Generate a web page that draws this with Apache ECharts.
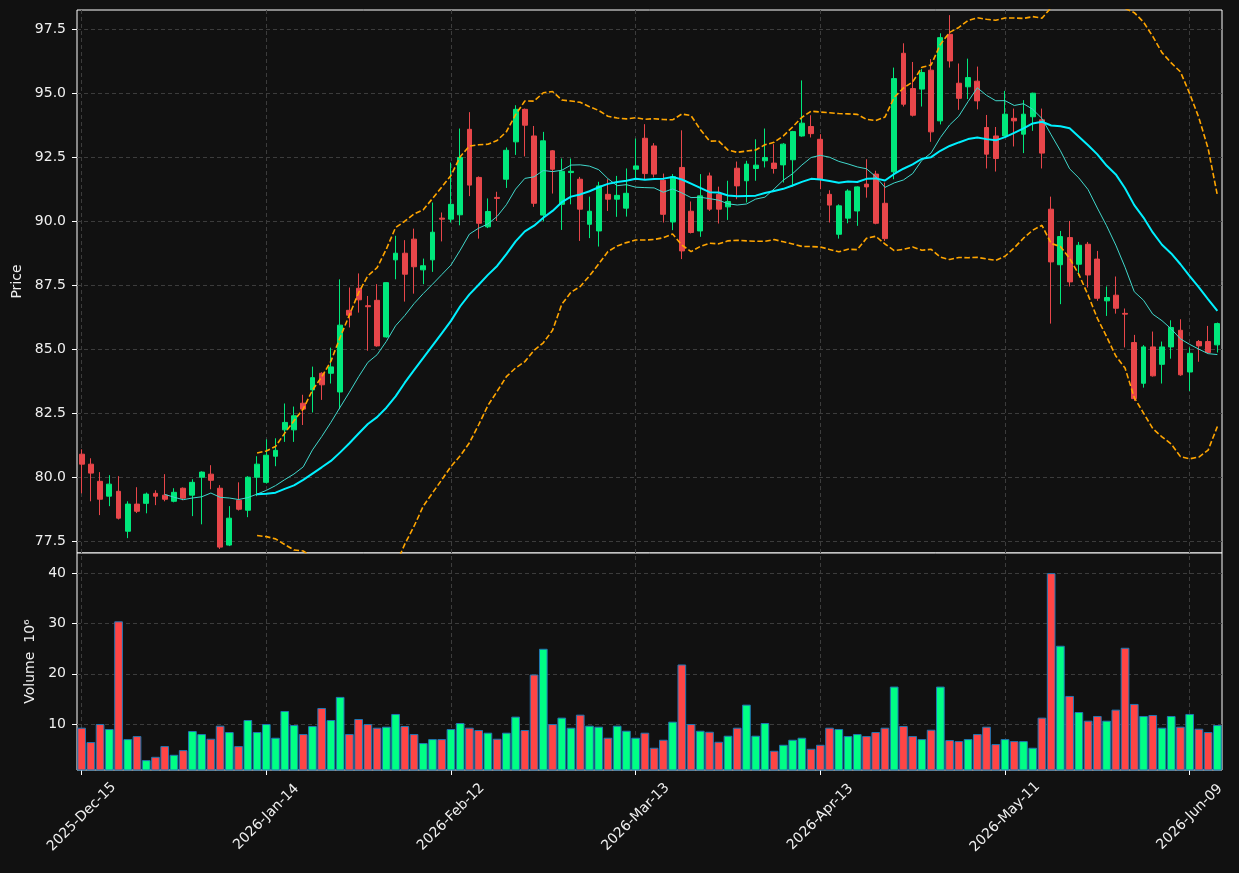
<!DOCTYPE html>
<html>
<head>
<meta charset="utf-8">
<title>Price / Volume</title>
<script src="https://cdn.jsdelivr.net/npm/echarts@6/dist/echarts.min.js"></script>
<style>
html, body { margin: 0; padding: 0; background: #111111; }
#main { width: 1239px; height: 873px; }
</style>
</head>
<body>
<div id="main"></div>
<script>
var dates = [
	'2025-Dec-15','2025-Dec-16','2025-Dec-17','2025-Dec-18','2025-Dec-19','2025-Dec-22','2025-Dec-23','2025-Dec-24','2025-Dec-26','2025-Dec-29','2025-Dec-30','2025-Dec-31',
	'2026-Jan-02','2026-Jan-05','2026-Jan-06','2026-Jan-07','2026-Jan-08','2026-Jan-09','2026-Jan-12','2026-Jan-13','2026-Jan-14','2026-Jan-15','2026-Jan-16','2026-Jan-20','2026-Jan-21','2026-Jan-22','2026-Jan-23','2026-Jan-26','2026-Jan-27','2026-Jan-28','2026-Jan-29','2026-Jan-30',
	'2026-Feb-02','2026-Feb-03','2026-Feb-04','2026-Feb-05','2026-Feb-06','2026-Feb-09','2026-Feb-10','2026-Feb-11','2026-Feb-12','2026-Feb-13','2026-Feb-17','2026-Feb-18','2026-Feb-19','2026-Feb-20','2026-Feb-23','2026-Feb-24','2026-Feb-25','2026-Feb-26','2026-Feb-27',
	'2026-Mar-02','2026-Mar-03','2026-Mar-04','2026-Mar-05','2026-Mar-06','2026-Mar-09','2026-Mar-10','2026-Mar-11','2026-Mar-12','2026-Mar-13','2026-Mar-16','2026-Mar-17','2026-Mar-18','2026-Mar-19','2026-Mar-20','2026-Mar-23','2026-Mar-24','2026-Mar-25','2026-Mar-26','2026-Mar-27','2026-Mar-30','2026-Mar-31',
	'2026-Apr-01','2026-Apr-02','2026-Apr-06','2026-Apr-07','2026-Apr-08','2026-Apr-09','2026-Apr-10','2026-Apr-13','2026-Apr-14','2026-Apr-15','2026-Apr-16','2026-Apr-17','2026-Apr-20','2026-Apr-21','2026-Apr-22','2026-Apr-23','2026-Apr-24','2026-Apr-27','2026-Apr-28','2026-Apr-29','2026-Apr-30',
	'2026-May-01','2026-May-04','2026-May-05','2026-May-06','2026-May-07','2026-May-08','2026-May-11','2026-May-12','2026-May-13','2026-May-14','2026-May-15','2026-May-18','2026-May-19','2026-May-20','2026-May-21','2026-May-22','2026-May-26','2026-May-27','2026-May-28','2026-May-29',
	'2026-Jun-01','2026-Jun-02','2026-Jun-03','2026-Jun-04','2026-Jun-05','2026-Jun-08','2026-Jun-09','2026-Jun-10','2026-Jun-11','2026-Jun-12'
];

var opens = [
	80.90,80.51,79.84,79.26,79.45,77.89,78.95,78.98,79.37,79.30,79.06,79.57,79.30,80.00,80.12,79.57,77.35,79.10,78.71,80.00,
	79.80,80.82,81.85,81.85,82.89,83.41,84.06,84.06,83.33,86.52,87.38,86.70,86.91,85.48,88.49,88.75,89.30,88.10,88.49,90.12,
	90.08,90.25,93.59,91.71,89.78,90.93,91.64,93.10,94.37,93.33,90.24,92.75,90.66,91.90,91.64,89.88,89.62,91.05,90.86,90.51,
	92.03,93.24,92.94,91.60,89.97,92.10,90.39,89.62,91.77,91.05,90.56,92.07,91.58,92.06,92.36,92.27,92.20,92.40,93.33,93.70,
	93.20,91.05,89.49,90.12,90.40,91.45,91.84,90.70,91.93,96.56,95.18,95.16,95.90,93.92,97.30,95.39,95.25,95.47,93.66,93.33,
	93.33,94.02,93.40,94.08,93.96,90.47,88.30,89.36,88.32,89.10,88.52,86.89,87.11,86.40,85.26,83.67,85.09,84.41,85.09,85.74,
	84.11,85.30,85.30,85.17
];
var closes = [
	80.51,80.16,79.14,79.73,78.40,78.95,78.67,79.34,79.26,79.14,79.41,79.18,79.80,80.20,79.88,77.27,78.40,78.75,80.00,80.51,
	80.86,81.05,82.14,82.40,82.66,83.89,83.61,84.31,85.94,86.33,86.93,86.66,85.13,87.60,88.75,87.93,88.22,88.26,89.57,90.08,
	90.66,92.49,91.41,89.92,90.38,90.89,92.77,94.37,93.75,90.70,93.14,92.03,91.95,91.95,90.47,90.39,91.38,90.86,91.01,91.09,
	92.16,91.86,91.84,90.27,91.74,88.84,89.56,90.99,90.47,90.47,90.77,91.38,92.23,92.19,92.49,92.06,93.01,93.50,93.83,93.42,
	91.64,90.63,90.60,91.18,91.34,91.34,89.92,89.32,95.57,94.57,94.14,95.81,93.49,97.17,96.26,94.80,95.61,94.70,92.62,92.45,
	94.18,93.92,94.18,95.00,92.66,88.41,89.40,87.63,89.06,87.90,86.99,87.02,86.60,86.37,83.07,85.09,83.96,85.09,85.85,84.00,
	84.84,85.13,84.87,86.00
];
var lows = [
	79.37,79.06,78.52,78.87,78.35,77.62,78.60,78.59,78.91,79.06,79.02,79.10,78.48,78.16,79.53,77.20,77.31,78.70,78.44,79.26,
	79.75,80.43,81.38,81.38,82.04,82.53,83.02,83.66,82.66,85.85,86.43,84.94,85.10,85.45,87.73,86.86,87.17,87.54,88.02,89.21,
	89.95,89.84,90.98,89.32,89.73,90.01,91.30,92.59,92.53,90.56,89.99,91.08,89.66,90.66,89.23,89.34,89.01,90.40,90.17,90.18,
	91.64,91.61,91.71,89.95,89.65,88.52,89.52,89.39,90.40,89.91,90.05,90.86,90.73,91.58,92.10,91.86,91.51,91.35,93.30,93.27,
	91.25,89.95,89.32,89.92,89.82,90.92,89.88,89.23,91.64,94.48,94.09,94.48,93.10,93.78,96.00,94.35,94.77,94.37,92.06,91.94,
	93.30,92.92,92.66,93.53,92.06,86.00,86.76,87.45,87.87,87.41,86.89,86.30,86.39,85.07,82.98,83.50,83.93,83.66,84.63,83.96,
	83.37,84.51,84.84,84.87
];
var highs = [
	81.09,80.74,80.20,80.08,80.04,79.06,79.61,79.40,79.49,80.12,79.57,79.60,79.92,80.23,80.47,79.69,78.87,79.80,80.04,80.82,
	81.48,81.52,82.88,82.76,83.22,84.32,84.10,85.06,87.73,87.41,87.96,87.08,87.54,87.62,89.43,89.26,89.71,88.54,90.73,90.34,
	92.29,93.62,94.26,91.75,90.89,91.15,92.88,94.53,94.40,93.72,93.49,92.78,92.45,92.45,91.73,90.96,91.54,91.64,91.77,92.06,
	93.23,93.79,93.05,91.86,91.84,93.55,90.77,91.84,91.90,91.35,91.58,92.33,92.36,93.20,93.62,93.01,93.05,93.53,95.50,94.14,
	93.40,91.21,90.66,91.25,91.36,92.42,91.97,91.51,96.00,96.95,96.22,95.94,96.33,97.34,98.05,96.16,96.35,96.04,94.15,93.68,
	95.09,94.40,94.73,95.02,94.40,90.96,89.62,90.01,89.19,89.19,88.84,87.45,87.84,86.59,85.56,85.16,85.69,85.30,86.13,86.17,
	85.07,85.36,85.91,86.04
];
// millions
var volumes = [
	9.30,6.45,10.03,9.04,30.43,7.04,7.64,2.86,3.52,5.65,3.92,4.85,8.64,8.04,7.11,9.70,8.44,5.65,10.83,8.44,
	10.03,7.31,12.62,9.83,8.04,9.63,13.22,10.83,15.42,8.04,11.03,10.03,9.30,9.50,12.03,9.63,8.04,6.25,7.04,7.04,
	9.04,10.23,9.30,8.84,8.31,7.11,8.31,11.50,8.84,19.87,24.98,10.03,11.30,9.30,11.89,9.70,9.50,7.31,9.70,8.70,
	7.31,8.31,5.32,6.91,10.50,21.86,10.03,8.70,8.50,6.51,7.71,9.30,13.88,7.71,10.23,4.72,5.91,6.91,7.31,5.12,
	5.91,9.30,9.04,7.64,8.04,7.64,8.44,9.30,17.47,9.63,7.64,7.04,8.90,17.47,6.84,6.64,7.04,8.04,9.50,6.05,
	7.04,6.64,6.64,5.32,11.30,40.00,25.58,15.61,12.42,10.70,11.63,10.70,12.89,25.18,14.02,11.63,11.83,9.30,11.63,9.50,
	12.03,9.10,8.44,9.83
];

var priceTicks = [77.5, 80.0, 82.5, 85.0, 87.5, 90.0, 92.5, 95.0, 97.5];
var volumeTicks = [10, 20, 30, 40];

var upColor = '#00e87c', downColor = '#e8464a';
var volUp = '#00ff85', volDown = '#ff4545';
var textColor = '#f0f0f0';
var gridColor = '#3c3c3c';

function _sma(arr, n) {
	var out = [];
	for (var i = 0; i < arr.length; i++) {
		if (i < n - 1) { out.push('-'); continue; }
		var s = 0;
		for (var j = i - n + 1; j <= i; j++) s += arr[j];
		out.push(+(s / n).toFixed(4));
	}
	return out;
}

function _bands(arr, n, k) {
	var mid = _sma(arr, n), up = [], dn = [];
	for (var i = 0; i < arr.length; i++) {
		if (i < n - 1) { up.push('-'); dn.push('-'); continue; }
		var ss = 0;
		for (var j = i - n + 1; j <= i; j++) ss += (arr[j] - mid[i]) * (arr[j] - mid[i]);
		var sd = Math.sqrt(ss / (n - 1));
		up.push(+(mid[i] + k * sd).toFixed(4));
		dn.push(+(mid[i] - k * sd).toFixed(4));
	}
	return { up: up, dn: dn };
}

var ma10 = _sma(closes, 10);
var ma20 = _sma(closes, 20);
var bb = _bands(closes, 20, 2);

var candles = [];
for (var i = 0; i < dates.length; i++) {
	candles.push([opens[i], closes[i], lows[i], highs[i]]);
}

// vertical grid lines every 20 bars
var xGrid = [];
for (var t = 0; t < dates.length; t += 20) xGrid.push({ xAxis: dates[t] });

function _hLines(vals) {
	var res = [];
	for (var i = 0; i < vals.length; i++) res.push({ yAxis: vals[i] });
	return res;
}

function _gridMarks(vals) {
	return {
		silent: true,
		z: 1,
		symbol: ['none', 'none'],
		label: { show: false },
		animation: false,
		lineStyle: { color: gridColor, type: [4, 3], width: 1 },
		data: xGrid.concat(_hLines(vals))
	};
}

var font = 'DejaVu Sans';

var option = {
	backgroundColor: '#111111',
	animation: false,
	textStyle: { fontFamily: font },
	grid: [
		{ left: 77, right: 17, top: 10, height: 543, show: true, backgroundColor: '#111111', borderColor: '#ffffff', borderWidth: 1 },
		{ left: 77, right: 17, top: 553, height: 217, show: true, backgroundColor: '#111111', borderColor: '#ffffff', borderWidth: 1 }
	],
	xAxis: [
		{
			type: 'category', gridIndex: 0, data: dates,
			axisLine: { show: false }, axisTick: { show: false }, axisLabel: { show: false }, splitLine: { show: false }
		},
		{
			type: 'category', gridIndex: 1, data: dates,
			axisLine: { show: false },
			axisTick: { show: true, alignWithLabel: true, interval: 19, length: 5, lineStyle: { color: '#ffffff' } },
			// centred under the tick, like the rotated labels of the original
			axisLabel: { interval: 19, rotate: 45, align: 'center', verticalAlign: 'middle', margin: 47,
				color: textColor, fontSize: 14, fontFamily: font },
			splitLine: { show: false }
		}
	],
	yAxis: [
		{
			type: 'value', gridIndex: 0, min: 77.04, max: 98.25,
			name: 'Price', nameLocation: 'middle', nameGap: 52, nameRotate: 90,
			nameTextStyle: { color: textColor, fontSize: 14, fontFamily: font },
			axisLine: { show: false },
			axisTick: { show: true, length: 5, customValues: priceTicks, lineStyle: { color: '#ffffff' } },
			axisLabel: { customValues: priceTicks, color: textColor, fontSize: 14, fontFamily: font, margin: 11,
				formatter: function(v) { return v.toFixed(1); } },
			splitLine: { show: false }
		},
		{
			type: 'value', gridIndex: 1, min: 0.9, max: 44,
			name: 'Volume  10\u2076', nameLocation: 'middle', nameGap: 40, nameRotate: 90,
			nameTextStyle: { color: textColor, fontSize: 14, fontFamily: font },
			axisLine: { show: false },
			axisTick: { show: true, length: 5, customValues: volumeTicks, lineStyle: { color: '#ffffff' } },
			axisLabel: { customValues: volumeTicks, color: textColor, fontSize: 14, fontFamily: font, margin: 11 },
			splitLine: { show: false }
		}
	],
	series: [
		{
			name: 'Price', type: 'candlestick', xAxisIndex: 0, yAxisIndex: 0, z: 2,
			barWidth: '58%',
			data: candles,
			itemStyle: { color: upColor, color0: downColor, borderColor: upColor, borderColor0: downColor, borderWidth: 1 },
			markLine: _gridMarks(priceTicks)
		},
		{
			name: 'MA10', type: 'line', xAxisIndex: 0, yAxisIndex: 0, z: 3,
			data: ma10, symbol: 'none', smooth: false,
			lineStyle: { color: '#40d8cc', width: 1 }
		},
		{
			name: 'MA20', type: 'line', xAxisIndex: 0, yAxisIndex: 0, z: 4,
			data: ma20, symbol: 'none', smooth: false,
			lineStyle: { color: '#00f0ff', width: 2 }
		},
		{
			name: 'BB upper', type: 'line', xAxisIndex: 0, yAxisIndex: 0, z: 4,
			data: bb.up, symbol: 'none',
			lineStyle: { color: '#ffa500', width: 1.6, type: [5.5, 2.5] }
		},
		{
			name: 'BB lower', type: 'line', xAxisIndex: 0, yAxisIndex: 0, z: 4,
			data: bb.dn, symbol: 'none',
			lineStyle: { color: '#ffa500', width: 1.6, type: [5.5, 2.5] }
		},
		{
			name: 'Volume', type: 'bar', xAxisIndex: 1, yAxisIndex: 1, z: 2,
			barWidth: '94%',
			data: volumes,
			itemStyle: {
				borderColor: '#1f77b4', borderWidth: 1,
				color: function(p) { return closes[p.dataIndex] >= opens[p.dataIndex] ? volUp : volDown; }
			},
			markLine: _gridMarks(volumeTicks)
		}
	]
};

var myChart = echarts.init(document.getElementById('main'));
myChart.setOption(option);
</script>
</body>
</html>
